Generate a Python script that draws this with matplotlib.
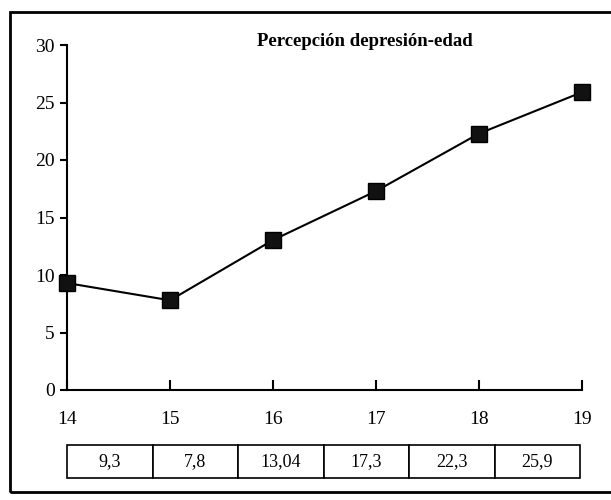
import matplotlib
matplotlib.use("Agg")
import matplotlib.pyplot as plt
from matplotlib.patches import Rectangle

edad = [14, 15, 16, 17, 18, 19]
depresion = [9.3, 7.8, 13.04, 17.3, 22.3, 25.9]
etiquetas = ["9,3", "7,8", "13,04", "17,3", "22,3", "25,9"]

plt.rcParams['font.family'] = ['Liberation Serif', 'DejaVu Serif']

fig = plt.figure(figsize=(6.11, 5.0), dpi=100)
ax = fig.add_axes([0.1097, 0.22, 0.843, 0.69])

# marco exterior
fig.patches.append(Rectangle((0.0164, 0.016), 1.0, 0.96, transform=fig.transFigure,
                             fill=False, edgecolor='black', linewidth=2.0))

ax.plot(edad, depresion, color='black', linewidth=1.5, marker='s',
        markersize=11, markerfacecolor='#111111', markeredgecolor='black',
        clip_on=False, zorder=5)

ax.set_xlim(14, 19)
ax.set_ylim(0, 30)
ax.set_xticks(edad)
ax.set_yticks(range(0, 31, 5))
ax.spines['top'].set_visible(False)
ax.spines['right'].set_visible(False)
ax.spines['left'].set_linewidth(1.5)
ax.spines['bottom'].set_linewidth(1.5)
ax.tick_params(axis='x', direction='in', length=7, width=1.5, pad=15, labelsize=14)
ax.tick_params(axis='y', direction='out', length=5, width=1.5, pad=4, labelsize=14)

ax.text(0.579, 0.985, "Percepción depresión-edad", transform=ax.transAxes,
        ha='center', va='bottom', fontsize=13.5, fontweight='bold')

tabla = ax.table(cellText=[etiquetas], cellLoc='center',
                 bbox=[0.0, -0.255, 0.996, 0.096])
tabla.auto_set_font_size(False)
for celda in tabla.get_celld().values():
    celda.set_linewidth(1.2)
    celda.get_text().set_fontsize(13)

fig.savefig("out.png", dpi=100)
